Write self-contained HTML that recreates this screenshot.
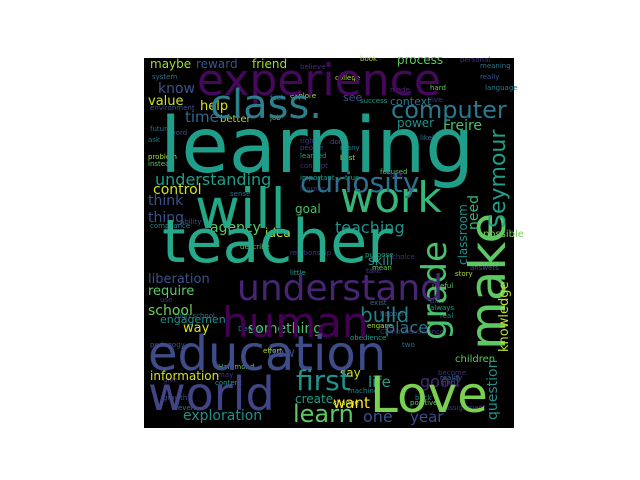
<!DOCTYPE html>
<html><head><meta charset="utf-8"><style>
html,body{margin:0;padding:0;background:#fff;}
svg{display:block;}
text{font-family:"DejaVu Sans","Liberation Sans",sans-serif;}
</style></head><body>
<svg width="640" height="480">
<rect x="144" y="58" width="370" height="370" fill="#000"/>
<g id="words"></g>
</svg>
<script>
// big words
const bigWords=["learning","experience","class.","computer","teacher","will","work","curiosity","understand","human","education","world","Love","first","learn"];
const bigX=[160,197,210,391,162,195,340,300,237,222,148,148,370,296,293];
const bigY=[172,95,118,118,262,228,212,192,300,337,370,410,412,390,422];
const bigSize=[77,44,40,24,60,55,42,28,36,42,48,46,50,28,24];
const bigColor=["#1f9e89","#46085c","#2c7f8e","#2a788e","#26a98a","#22a884","#35b779","#2d708e","#482475","#440154","#3e4c8a","#414487","#7ad151","#21918c","#5ec962"];
// medium words
const midWords=["maybe","reward","friend","know","value","help","time","better","understanding","control","think","thing","agency","idea","goal","process","see","context","power","Freire","teaching","possible","liberation","require","school","engagement","way","something","new","information","exploration","create","build","place","skill","good","life","want","one","year","say","children"];
const midX=[150,196,252,158,148,200,185,220,155,153,148,148,210,265,295,397,343,390,397,443,335,483,148,148,148,160,183,248,268,150,183,295,360,385,368,420,368,333,363,410,340,455];
const midY=[68,68,68,93,105,110,122,122,185,194,205,222,232,237,213,64,101,105,127,130,233,237,283,295,315,323,332,333,357,380,420,403,322,333,265,387,387,408,422,422,377,362];
const midSize=[12,12,12,14,13,13,15,10,16,14,14,14,14,12,12,12,11,11,12,14,16,10,13,13,14,11,13,14,13,12,14,12,20,16,13,16,15,15,16,15,12,10];
const midColor=["#a0da39","#3b528b","#a0da39","#3b528b","#d0e11c","#d8e219","#31688e","#a5db36","#1f9e89","#d0e11c","#3b528b","#3b528b","#5ec962","#c2df23","#4ac16d","#5ec962","#3b528b","#2a788e","#21918c","#4ac16d","#21918c","#75d054","#3b528b","#5ec962","#6ccd5a","#21918c","#d8e219","#4ac16d","#3e4a89","#d0e11c","#21918c","#1f9e89","#26828e","#2a788e","#21918c","#482878","#1f9e89","#fde725","#3b528b","#3e4c8a","#d8e219","#5ec962"];
// vertical words (x = baseline, y = bottom end)
const vWords=["make","grade","Seymour","classroom","need","knowledge","question"];
const vX=[505,446,505,467,478,508,497];
const vY=[350,340,228,265,230,352,420];
const vSize=[50,34,22,12,14,13,14];
const vColor=["#5ec962","#4ac16d","#1f9e89","#21918c","#35b779","#bddf26","#21918c"];
// small words
const smallWords=["believe","system","environment","feel","explore","job","people","learned","concept","future","word","ask","problem","instead","right","important","learner","sense","ability","compliance","college","hard","live","success","made","likely","don","many","best","focused","talk","true","personal","meaning","really","language","book","describe","relationship","little","use","high school","pedagogy","Dewey","effort","Hammond","may","content","give","even","growth","machine","engage","mean","take","purpose","choice","exist","happen","real","story","useful","part","always","become","reality","find","back","change","positive","assignment","obedience","Computer Science","two","answers"];
const smallX=[300,152,150,270,290,270,300,300,300,150,170,148,148,148,300,300,300,230,180,150,335,430,430,360,390,420,330,340,340,380,390,345,460,480,480,485,360,240,290,290,160,175,150,238,263,218,218,215,163,178,163,348,367,372,366,365,392,370,380,440,455,432,430,430,438,440,442,415,333,410,445,350,380,402,470];
const smallY=[69,79,110,100,98,120,150,158,168,131,135,142,159,166,143,180,191,196,224,228,80,90,102,103,92,140,144,150,160,174,177,180,62,68,79,90,61,249,255,275,302,318,347,331,353,369,377,385,382,410,400,393,328,270,273,257,259,305,316,318,276,288,303,310,375,380,385,400,405,405,410,340,334,347,270];
const smallPalette=["#472d7b","#2c728e","#3b528b","#27808e","#a8db34","#5ec962","#443983","#1fa187"];
const g=document.getElementById('words');
function add(word,x,y,size,color,vertical){
  const t=document.createElementNS('http://www.w3.org/2000/svg','text');
  
  
  t.setAttribute('font-size',size);
  t.setAttribute('fill',color);
  if(vertical){t.setAttribute('transform','translate('+x+','+y+') rotate(-90)');}
  else{t.setAttribute('x',x);t.setAttribute('y',y);}
  t.textContent=word;
  g.appendChild(t);
}
for(let i=0;i<smallWords.length;i++) add(smallWords[i],smallX[i],smallY[i],7,smallPalette[i%smallPalette.length],false);
for(let i=0;i<midWords.length;i++) add(midWords[i],midX[i],midY[i],midSize[i],midColor[i],false);
for(let i=0;i<vWords.length;i++) add(vWords[i],vX[i],vY[i],vSize[i],vColor[i],true);
for(let i=0;i<bigWords.length;i++) add(bigWords[i],bigX[i],bigY[i],bigSize[i],bigColor[i],false);
</script>
</body></html>
